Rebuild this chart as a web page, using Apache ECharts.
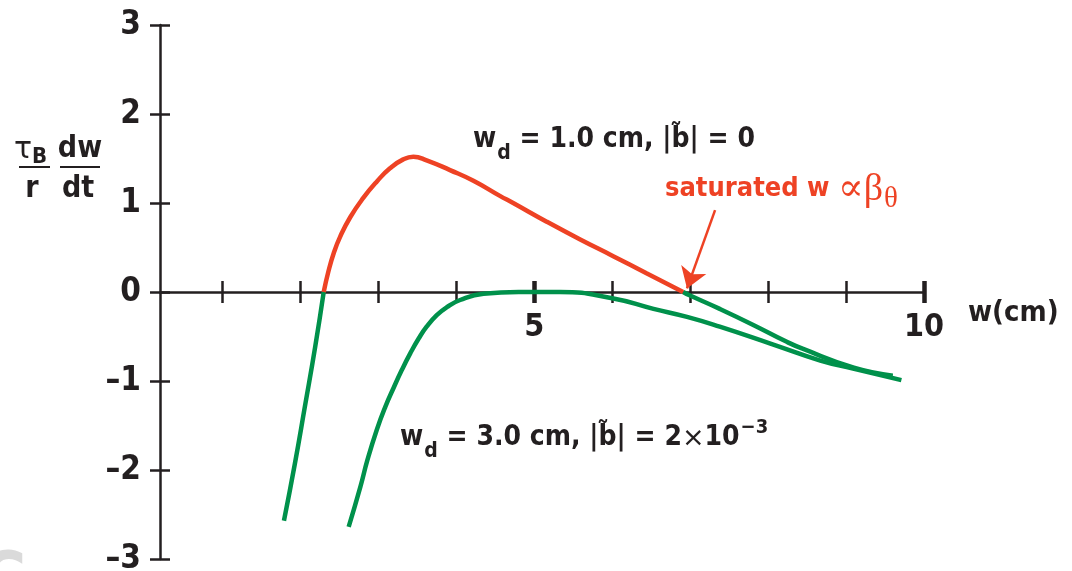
<!DOCTYPE html>
<html>
<head>
<meta charset="utf-8">
<script src="https://cdn.jsdelivr.net/npm/echarts@6/dist/echarts.min.js"></script>
<style>
  html, body { margin: 0; padding: 0; background: #ffffff; }
  #chart { width: 1072px; height: 571px; }
</style>
</head>
<body>
<div id="chart"></div>
<script>
// Island width w (cm) against normalised growth rate (tau_B / r) dw/dt

// w_d = 1.0 cm, |b~| = 0 : unstable branch (growth until saturation)
const unstableW    = [2.30, 2.36, 2.43, 2.51, 2.64, 2.81, 2.98, 3.15, 3.32, 3.45, 3.62, 3.92, 4.22, 4.56, 4.73, 5.16, 5.59, 6.02, 6.44, 6.91];
const unstableRate = [0.00, 0.23, 0.44, 0.62, 0.84, 1.06, 1.24, 1.39, 1.49, 1.52, 1.48, 1.37, 1.25, 1.08, 1.00, 0.79, 0.59, 0.40, 0.21, 0.00];

// w_d = 1.0 cm : decaying branch below the threshold width
const belowW    = [1.79, 1.93, 2.06, 2.19, 2.30];
const belowRate = [-2.57, -1.93, -1.28, -0.62, 0.00];

// w_d = 1.0 cm : beyond the saturated width
const beyondW    = [6.91, 7.00, 7.38, 7.81, 8.24, 8.45, 9.10, 9.60];
const beyondRate = [0.00, -0.04, -0.19, -0.37, -0.56, -0.64, -0.85, -0.94];

// w_d = 3.0 cm, |b~| = 2x10^-3
const wideW    = [2.62, 2.77, 2.86, 2.98, 3.09, 3.20, 3.30, 3.41, 3.52, 3.62, 3.75, 3.88, 4.05, 4.35, 4.80, 5.33, 6.00, 6.53, 6.96, 7.38, 8.03, 8.67, 9.09, 9.71];
const wideRate = [-2.64, -2.19, -1.89, -1.55, -1.29, -1.07, -0.88, -0.69, -0.52, -0.39, -0.26, -0.17, -0.09, -0.02, 0.00, 0.00, -0.07, -0.19, -0.28, -0.39, -0.58, -0.77, -0.86, -0.99];

// Axis ticks and labels
const xTickValues  = [1, 2, 3, 4, 5, 6, 7, 8, 9, 10];
const xMajorTicks  = [5, 10];
const xLabelValues = [5, 10];
const yTickValues  = [-3, -2, -1, 0, 1, 2, 3];

const RED = '#EE4224';
const GREEN = '#00914B';
const INK = '#231F20';
const FONT = '"Liberation Sans Narrow", "Arial Narrow", "DejaVu Sans Condensed", "Liberation Sans", sans-serif';
const SERIF = '"Liberation Serif", "DejaVu Serif", serif';

const zip = (xs, ys) => xs.map((x, i) => [x, ys[i]]);

const X_MIN = 0.2, X_MAX = 10, Y_MIN = -3, Y_MAX = 3;
const GRID = { left: 160, right: 148, top: 25, bottom: 12 };
const PLOT_H = 571 - GRID.top - GRID.bottom;
// distance of the w axis (rate = 0) above the bottom edge of the plot
const ZERO_LIFT = PLOT_H * (0 - Y_MIN) / (Y_MAX - Y_MIN);

function xTickLayer(inside, ticks, width, withLine) {
  return {
    type: 'value', min: X_MIN, max: X_MAX, position: 'bottom',
    axisLine: { show: withLine, onZero: true, onZeroAxisIndex: 0, lineStyle: { color: INK, width: 2.5 } },
    axisTick: { show: true, inside: inside, length: 11, customValues: ticks, lineStyle: { color: INK, width: width } },
    axisLabel: { show: false },
    splitLine: { show: false }
  };
}

// labels and name of the w axis, lifted to the rate = 0 line
const xLabelLayer = {
  type: 'value', min: X_MIN, max: X_MAX, position: 'bottom',
  offset: -ZERO_LIFT,
  axisLine: { show: false, onZero: false },
  axisTick: { show: false },
  axisLabel: {
    show: true, customValues: xLabelValues, margin: 20,
    fontSize: 32, fontWeight: 'bold', fontFamily: FONT, color: INK
  },
  splitLine: { show: false },
  name: 'w(cm)', nameLocation: 'end', nameGap: 44,
  nameTextStyle: {
    fontSize: 29, fontWeight: 'bold', fontFamily: FONT, color: INK,
    verticalAlign: 'top', align: 'left', padding: [7, 0, 0, 0]
  }
};

function yAxisLayer(inside, withLine, withLabels) {
  return {
    type: 'value', min: Y_MIN, max: Y_MAX, interval: 1, position: 'left',
    axisLine: { show: withLine, onZero: false, lineStyle: { color: INK, width: 2.5 } },
    axisTick: { show: true, inside: inside, length: 10, customValues: yTickValues, lineStyle: { color: INK, width: 2.5 } },
    axisLabel: withLabels ? {
      show: true, margin: 19, fontSize: 33, fontWeight: 'bold', fontFamily: FONT, color: INK,
      formatter: v => (v < 0 ? '\u2013' + Math.abs(v) : String(v))
    } : { show: false },
    splitLine: { show: false }
  };
}

function curve(data, color, extra) {
  return Object.assign({
    type: 'line', data: data, xAxisIndex: 0, yAxisIndex: 0,
    showSymbol: false, symbol: 'none', smooth: 0.5,
    lineStyle: { color: color, width: 4.5, cap: 'butt' },
    silent: true, z: 3
  }, extra || {});
}

const satPoint = [unstableW[unstableW.length - 1], unstableRate[unstableRate.length - 1]];

const option = {
  backgroundColor: '#ffffff',
  animation: false,
  grid: Object.assign({ containLabel: false, outerBoundsMode: 'none' }, GRID),
  xAxis: [
    xTickLayer(false, xTickValues, 2.5, true),
    xTickLayer(true, xTickValues, 2.5, false),
    xTickLayer(false, xMajorTicks, 4.5, false),
    xTickLayer(true, xMajorTicks, 4.5, false),
    xLabelLayer
  ],
  yAxis: [
    yAxisLayer(false, true, true),
    yAxisLayer(true, false, false)
  ],
  series: [
    curve(zip(belowW, belowRate), GREEN),
    curve(zip(wideW, wideRate), GREEN),
    curve(zip(beyondW, beyondRate), GREEN),
    curve(zip(unstableW, unstableRate), RED, {
      z: 4,
      markLine: {
        silent: true, animation: false,
        symbol: ['none', 'arrow'], symbolSize: 20,
        label: { show: false },
        lineStyle: { color: RED, width: 2.5, type: 'solid' },
        emphasis: { disabled: true },
        data: [[
          { coord: [satPoint[0] + 0.41, satPoint[1] + 0.92] },
          { coord: [satPoint[0] + 0.05, satPoint[1] + 0.04] }
        ]]
      }
    })
  ],
  graphic: [
    // y-axis quantity: (tau_B / r) (dw / dt)
    { type: 'text', x: 14, y: 150, style: { text: 'τ', font: '30px "DejaVu Sans", sans-serif', fill: INK, align: 'left', verticalAlign: 'middle' } },
    { type: 'text', x: 32, y: 157, style: { text: 'B', font: 'bold 22px ' + FONT, fill: INK, align: 'left', verticalAlign: 'middle' } },
    { type: 'line', shape: { x1: 19, y1: 167, x2: 50, y2: 167 }, style: { stroke: INK, lineWidth: 2 } },
    { type: 'text', x: 32, y: 189, style: { text: 'r', font: 'bold 30px ' + FONT, fill: INK, align: 'center', verticalAlign: 'middle' } },
    { type: 'text', x: 80, y: 149, style: { text: 'dw', font: 'bold 30px ' + FONT, fill: INK, align: 'center', verticalAlign: 'middle' } },
    { type: 'line', shape: { x1: 60, y1: 167, x2: 100, y2: 167 }, style: { stroke: INK, lineWidth: 2 } },
    { type: 'text', x: 78, y: 189, style: { text: 'dt', font: 'bold 30px ' + FONT, fill: INK, align: 'center', verticalAlign: 'middle' } },

    // curve annotations
    {
      type: 'text', x: 473, y: 126,
      style: {
        text: '{m|w}{s|d}{m| = 1.0 cm, |b\u0303| = 0}',
        align: 'left', verticalAlign: 'top', fill: INK,
        rich: {
          m: { fontSize: 28, fontWeight: 'bold', fontFamily: FONT, fill: INK, verticalAlign: 'top' },
          s: { fontSize: 21, fontWeight: 'bold', fontFamily: FONT, fill: INK, verticalAlign: 'top', padding: [17, 0, 0, 1] }
        }
      }
    },
    {
      type: 'text', x: 400, y: 418,
      style: {
        text: '{m|w}{s|d}{m| = 3.0 cm, |b\u0303| = 2}{x|\u00d7}{m|10}{p|\u22123}',
        align: 'left', verticalAlign: 'top', fill: INK,
        rich: {
          m: { fontSize: 28, fontWeight: 'bold', fontFamily: FONT, fill: INK, verticalAlign: 'top', padding: [6, 0, 0, 0] },
          x: { fontSize: 27, fontFamily: '"DejaVu Sans", sans-serif', fill: INK, verticalAlign: 'top', padding: [7, 0, 0, 0] },
          s: { fontSize: 21, fontWeight: 'bold', fontFamily: FONT, fill: INK, verticalAlign: 'top', padding: [23, 0, 0, 1] },
          p: { fontSize: 20, fontWeight: 'bold', fontFamily: FONT, fill: INK, verticalAlign: 'top', padding: [0, 0, 0, 1] }
        }
      }
    },
    {
      type: 'text', x: 665, y: 171,
      style: {
        text: '{b|saturated w }{r|\u221d\u03b2}{t|\u03b8}',
        align: 'left', verticalAlign: 'top', fill: RED,
        rich: {
          b: { fontSize: 27, fontWeight: 'bold', fontFamily: FONT, fill: RED, verticalAlign: 'top', padding: [4, 0, 0, 0] },
          r: { fontSize: 38, fontFamily: SERIF, fill: RED, verticalAlign: 'top', padding: [0, 0, 0, 0] },
          t: { fontSize: 29, fontFamily: SERIF, fill: RED, verticalAlign: 'top', padding: [14, 0, 0, 1] }
        }
      }
    },

    // faint mark in the lower-left corner
    { type: 'text', x: -20, y: 548, style: { text: 'C', font: 'bold 70px ' + FONT, fill: '#dadada', align: 'left', verticalAlign: 'top' }, z: -1 }
  ]
};

const chart = echarts.init(document.getElementById('chart'), null, { renderer: 'canvas' });
chart.setOption(option);
</script>
</body>
</html>
